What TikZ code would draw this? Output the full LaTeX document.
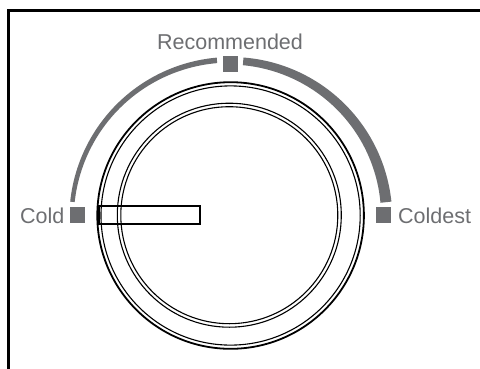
\documentclass[tikz,border=0pt]{standalone}
\usepackage{fontspec}
\setmainfont{Liberation Sans}
\definecolor{dialgray}{RGB}{109,110,113}
\begin{document}
\begin{tikzpicture}[x=1pt,y=-1pt,
  lbl/.style={inner sep=0pt, text=dialgray, font=\fontsize{21.5}{24}\selectfont},
  marker/.style={fill=dialgray, draw=none},
  ring/.style={draw=black, line width=1.1pt},
  frameline/.style={draw=black, line width=2.5pt}]
\useasboundingbox (0,0) rectangle (480,368);
% frame
\coordinate (fbl) at (8.3,370);
\coordinate (ftl) at (8.3,10.5);
\coordinate (ftr) at (482,10.5);
\draw[frameline] (fbl) -- (ftl) -- (ftr);
% gray scale arc
\def\cx{230.8}\def\cy{218.5}\def\ro{161.5}
\fill[dialgray] plot[domain=174:95,samples=60] ({\cx+\ro*cos(\x)},{\cy-\ro*sin(\x)})
  -- plot[domain=95:174,samples=60] ({\cx+(\ro-4.5-(174-\x)/79)*cos(\x)},{\cy-(\ro-4.5-(174-\x)/79)*sin(\x)}) -- cycle;
\fill[dialgray] plot[domain=85.5:6,samples=60] ({\cx+\ro*cos(\x)},{\cy-\ro*sin(\x)})
  -- plot[domain=6:85.5,samples=60] ({\cx+(\ro-7.7-(85.5-\x)/79.5*3.3)*cos(\x)},{\cy-(\ro-7.7-(85.5-\x)/79.5*3.3)*sin(\x)}) -- cycle;
% markers
\node[marker, minimum width=15pt, minimum height=16pt, inner sep=0pt] (mcold) at (77.5,215) {};
\node[marker, minimum width=15.5pt, minimum height=15.5pt, inner sep=0pt] (mrec) at (230.5,64) {};
\node[marker, minimum width=15pt, minimum height=16pt, inner sep=0pt] (mcoldest) at (383.5,215) {};
% labels
\node[lbl, anchor=base east] (tcold) at (64.5,223) {Cold};
\node[lbl, anchor=base] (trec) at (230,49) {Recommended};
\node[lbl, anchor=base west] (tcoldest) at (398,223) {Coldest};
% knob
\coordinate (kc) at (230.6,215.5);
\coordinate (ic) at (229.3,215.2);
\draw[ring, line width=1.8pt] (kc) circle[radius=133.3];
\draw[ring] (kc) circle[radius=129.6];
\draw[ring] (ic) circle[radius=112];
\draw[ring] (ic) circle[radius=108.5];
% pointer
\node[draw=black, line width=1.6pt, inner sep=0pt, minimum width=101pt, minimum height=18pt, anchor=west] (ptr) at (98.3,215) {};
\end{tikzpicture}
\end{document}
